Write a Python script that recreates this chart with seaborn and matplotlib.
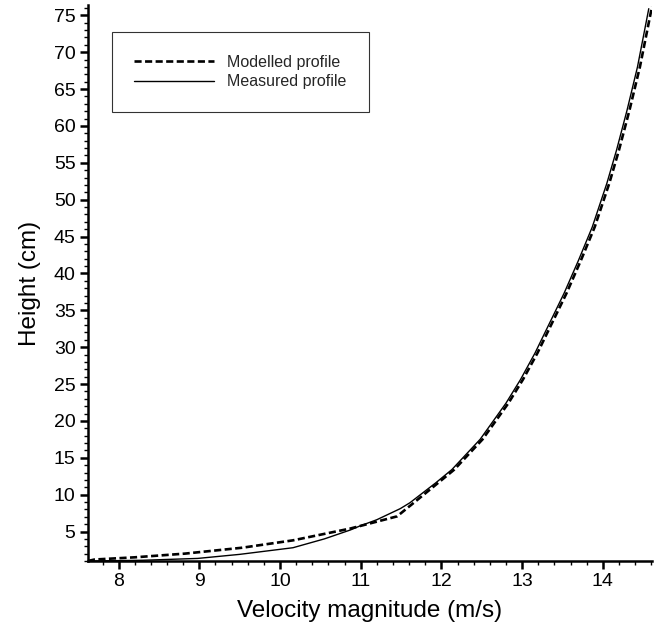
import matplotlib
matplotlib.use("Agg")
import matplotlib.pyplot as plt
import seaborn as sns
import pandas as pd
from matplotlib.ticker import MultipleLocator

# Measured profile (solid)
measured_height = [1.0, 1.1, 1.35, 1.9, 2.8, 4.0, 5.2, 5.75, 6.6, 8.1, 8.9, 11.6, 13.4, 17.5,
                   22.4, 25.6, 29.2, 33.7, 37.3, 41.8, 46.3, 52.2, 56.7, 62.1, 68.0, 75.9]
measured_velocity = [7.65, 8.3, 8.98, 9.50, 10.16, 10.55, 10.87, 10.99, 11.20, 11.49, 11.61, 11.93, 12.13, 12.48,
                     12.80, 12.98, 13.16, 13.36, 13.52, 13.70, 13.87, 14.05, 14.17, 14.30, 14.43, 14.57]

# Modelled profile (dashed)
modelled_height = [1.0, 1.2, 1.5, 2.0, 2.8, 3.8, 5.4, 7.05, 8.65, 11.6, 13.4, 17.5, 22.4, 25.6,
                   29.2, 33.7, 37.3, 41.8, 46.3, 52.2, 56.7, 62.1, 68.0, 76.2]
modelled_velocity = [7.62, 7.70, 8.2, 8.82, 9.53, 10.16, 10.87, 11.45, 11.63, 11.96, 12.16, 12.51, 12.83, 13.01,
                     13.19, 13.39, 13.55, 13.73, 13.90, 14.08, 14.20, 14.33, 14.46, 14.61]

labels = ["Modelled profile", "Measured profile"]

sns.set_theme(style="white")
plt.rcParams["font.family"] = ["Liberation Sans", "DejaVu Sans"]

fig = plt.figure(figsize=(6.59, 6.28), dpi=100)
ax = fig.add_axes([88 / 659, 1 - 561 / 628, (652 - 88) / 659, (561 - 5) / 628])

df_mod = pd.DataFrame({"v": modelled_velocity, "h": modelled_height})
df_meas = pd.DataFrame({"v": measured_velocity, "h": measured_height})

sns.lineplot(data=df_mod, x="v", y="h", sort=False, ax=ax, color="black",
             linewidth=1.9, label=labels[0])
ax.lines[-1].set_dashes((2.7, 1.3))
sns.lineplot(data=df_meas, x="v", y="h", sort=False, ax=ax, color="black",
             linewidth=1.0, label=labels[1])

ax.set_xlim(7.62, 14.61)
ax.set_ylim(1.0, 76.4)
ax.xaxis.set_major_locator(MultipleLocator(1))
ax.xaxis.set_minor_locator(MultipleLocator(0.2))
ax.yaxis.set_minor_locator(MultipleLocator(1))
ax.set_yticks([5, 10, 15, 20, 25, 30, 35, 40, 45, 50, 55, 60, 65, 70, 75])

for s in ["top", "right"]:
    ax.spines[s].set_visible(False)
for s in ["left", "bottom"]:
    ax.spines[s].set_linewidth(1.8)
    ax.spines[s].set_color("black")

ax.tick_params(which="major", direction="out", length=6, width=1.8, colors="black",
               labelsize=14, left=True, bottom=True, pad=3)
ax.tick_params(which="minor", direction="out", length=3, width=1.0, colors="black",
               left=True, bottom=True)

ax.set_xlabel("Velocity magnitude (m/s)", fontsize=17.5, color="black", labelpad=7)
ax.set_ylabel("Height (cm)", fontsize=17.5, color="black", labelpad=9)

leg = ax.legend(loc="upper left", bbox_to_anchor=(0.0426, 0.951), fontsize=11.5,
                frameon=True, fancybox=False, edgecolor="black", handlelength=5.0,
                handletextpad=0.8, borderpad=1.4, labelspacing=0.3, borderaxespad=0)
leg.get_frame().set_linewidth(0.8)

fig.savefig("out.png", dpi=100)
